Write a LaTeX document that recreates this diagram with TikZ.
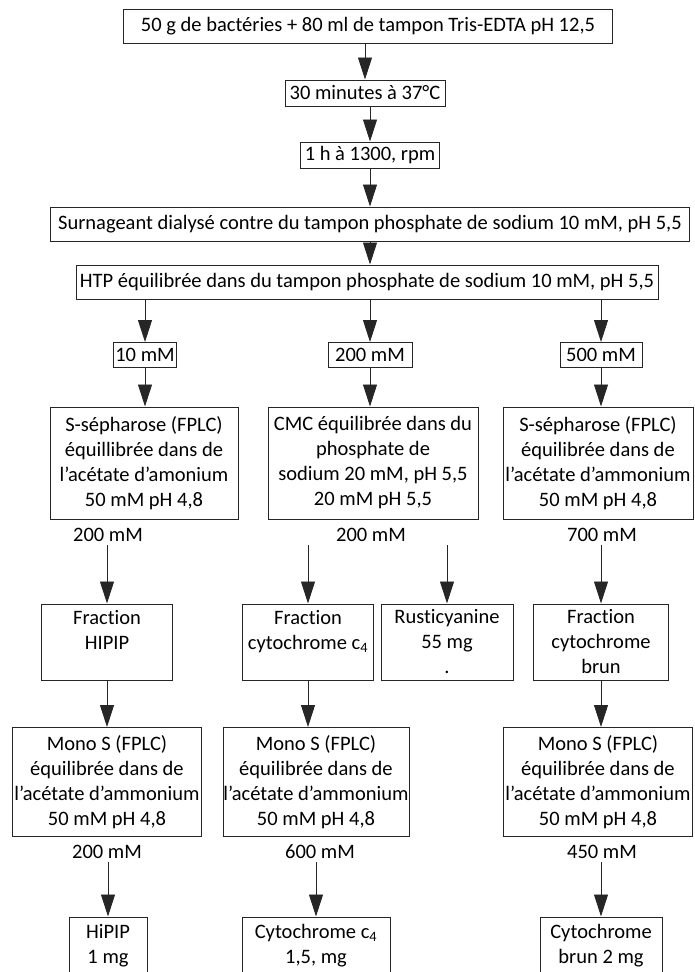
\documentclass[tikz,border=0pt]{standalone}
\usepackage{fontspec}
\setmainfont{Carlito}[Ligatures={TeX,NoCommon}]
\usepackage{tikz}
\usetikzlibrary{arrows.meta}

\begin{document}
\begin{tikzpicture}[
        x=1pt, y=-1pt,
        media/.style={font={\fontsize{20.5}{25}\selectfont}},
        stage/.style={media, draw=black!85, line width=1pt, inner sep=0pt, align=center},
        yield/.style={media, inner sep=3pt},
        flow/.style={draw=black!85, line width=0.9pt, -{Triangle[length=22pt, width=14pt]}},
        ]
        % page
        \useasboundingbox (0, 0) rectangle (695, 972);
        \clip (0, 0) rectangle (695, 972);

        % Extraction
        \node[stage, minimum width=489, minimum height=34] (bact) at (368, 26)
            {50 g de bactéries + 80 ml de tampon Tris-EDTA pH 12,5};
        \node[stage, minimum width=160, minimum height=26] (warm) at (365, 93)
            {30 minutes à 37°C};
        \node[stage, minimum width=139, minimum height=26] (spin) at (370, 155)
            {1 h à 1300, rpm};
        \node[stage, minimum width=639, minimum height=34] (dialyse) at (370, 224)
            {Surnageant dialysé contre du tampon phosphate de sodium 10 mM, pH 5,5};
        \node[stage, minimum width=582, minimum height=34] (htp) at (367, 282)
            {HTP équilibrée dans du tampon phosphate de sodium 10 mM, pH 5,5};

        \draw[flow] (bact.south -| warm.north) -- (warm.north);
        \draw[flow] (warm.south -| spin.north) -- (spin.north);
        \draw[flow] (spin.south) -- (spin.south |- dialyse.north);
        \draw[flow] (dialyse.south) -- (dialyse.south |- htp.north);

        % Elution from the HTP
        \node[stage, minimum width=63, minimum height=25] (eluA) at (145, 355) {10 mM};
        \node[stage, minimum width=84, minimum height=25] (eluB) at (370, 355) {200 mM};
        \node[stage, minimum width=82, minimum height=25] (eluC) at (601, 355) {500 mM};
        \foreach \n in {eluA, eluB, eluC}
            \draw[flow] (htp.south -| \n.north) -- (\n.north);

        % Columns
        \node[stage, minimum width=188, minimum height=112] (colA) at (144, 463)
            {S-sépharose (FPLC)\\équillibrée dans de\\l'acétate d'amonium\\50 mM pH 4,8};
        \node[stage, minimum width=210, minimum height=112] (colB) at (373, 463)
            {CMC équilibrée dans du\\phosphate de\\sodium 20 mM, pH 5,5\\20 mM pH 5,5};
        \node[stage, minimum width=190, minimum height=112] (colC) at (598, 463)
            {S-sépharose (FPLC)\\équilibrée dans de\\l'acétate d'ammonium\\50 mM pH 4,8};
        \foreach \n/\m in {eluA/colA, eluB/colB, eluC/colC}
            \draw[flow] (\n.south) -- (\n.south |- \m.north);

        % Fractions
        \node[yield] (outA) at (108, 535) {200 mM};
        \node[yield] (outB) at (371, 535) {200 mM};
        \node[yield] (outC) at (602, 535) {700 mM};
        \node[stage, minimum width=131, minimum height=76] (fracA) at (107, 642)
            {Fraction\\HIPIP\\\mbox{}};
        \node[stage, minimum width=131, minimum height=76] (fracB) at (308, 642)
            {Fraction\\cytochrome c\textsubscript{4}\\\mbox{}};
        \node[stage, minimum width=132, minimum height=76] (rusti) at (447, 642)
            {Rusticyanine\\55 mg\\.};
        \node[stage, minimum width=135, minimum height=76] (fracC) at (601, 642)
            {Fraction\\cytochrome\\brun};

        \draw[flow] (outA.south -| fracA.north) -- (fracA.north);
        \draw[flow] (outB.south -| fracB.north) -- (fracB.north);
        \draw[flow] (outB.south -| rusti.north) -- (rusti.north);
        \draw[flow] (outC.south -| fracC.north) -- (fracC.north);

        % Mono S
        \node[stage, minimum width=189, minimum height=109] (monoA) at (107, 782)
            {Mono S (FPLC)\\équilibrée dans de\\l'acétate d'ammonium\\50 mM pH 4,8};
        \node[stage, minimum width=186, minimum height=109] (monoB) at (316, 782)
            {Mono S (FPLC)\\équilibrée dans de\\l'acétate d'ammonium\\50 mM pH 4,8};
        \node[stage, minimum width=189, minimum height=109] (monoC) at (598, 782)
            {Mono S (FPLC)\\équilibrée dans de\\l'acétate d'ammonium\\50 mM pH 4,8};
        \foreach \n/\m in {fracA/monoA, fracB/monoB, fracC/monoC}
            \draw[flow] (\n.south) -- (\n.south |- \m.north);

        % Products
        \node[yield] (lastA) at (107, 852) {200 mM};
        \node[yield] (lastB) at (320, 852) {600 mM};
        \node[yield] (lastC) at (602, 852) {450 mM};
        \node[stage, minimum width=78, minimum height=58] (hipip) at (108, 946)
            {HiPIP\\1 mg};
        \node[stage, minimum width=148, minimum height=58] (cytc) at (316, 946)
            {Cytochrome c\textsubscript{4}\\1,5, mg};
        \node[stage, minimum width=122, minimum height=58] (cytbrun) at (601, 946)
            {Cytochrome\\brun 2 mg};

        \draw[flow] (lastA.south -| hipip.north) -- (hipip.north);
        \draw[flow] (lastB.south -| cytc.north) -- (cytc.north);
        \draw[flow] (lastC.south -| cytbrun.north) -- (cytbrun.north);
    \end{tikzpicture}
\end{document}
